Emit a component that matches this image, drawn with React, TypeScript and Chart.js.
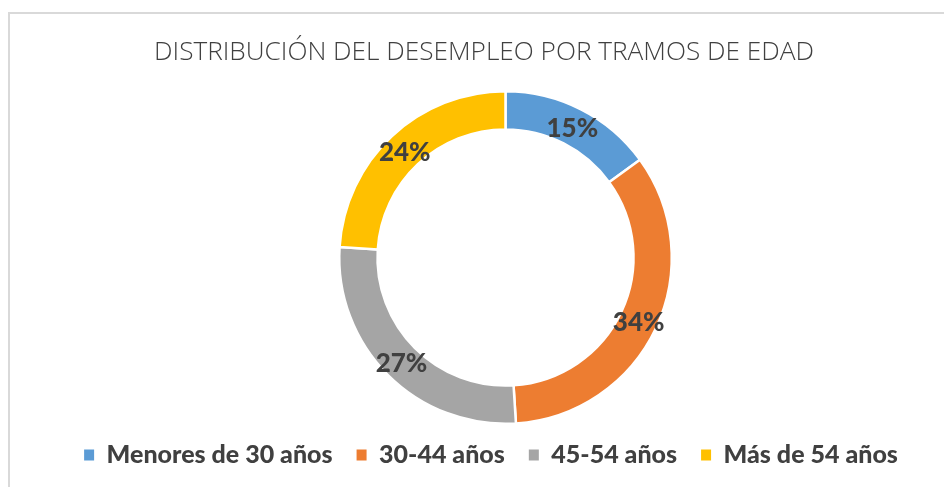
import React, { useEffect, useRef } from "react";
import { Chart, registerables } from "chart.js";

Chart.register(...registerables);

const TITLE = "DISTRIBUCIÓN DEL DESEMPLEO POR TRAMOS DE EDAD";
const categories = ["Menores de 30 años", "30-44 años", "45-54 años", "Más de 54 años"];
const values = [15, 34, 27, 24];
const colors = ["#5B9BD5", "#ED7D31", "#A5A5A5", "#FFC000"];

const AREA_SHIFT_X = 21.5;
const LEGEND_SHIFT_X = 7;
const LEGEND_SHIFT_Y = -6.5;
const LABEL_SHIFT_Y = 2.5;

const layoutShiftPlugin = {
  id: "layoutShift",
  afterLayout(chart: any) {
    const ca = chart.chartArea;
    ca.left += AREA_SHIFT_X;
    ca.right += AREA_SHIFT_X;
    if (chart.legend) {
      chart.legend.left += LEGEND_SHIFT_X;
      chart.legend.right += LEGEND_SHIFT_X;
      chart.legend.top += LEGEND_SHIFT_Y;
      chart.legend.bottom += LEGEND_SHIFT_Y;
    }
  },
};

const dataLabelPlugin = {
  id: "dataLabels",
  afterDatasetsDraw(chart: any) {
    const ctx = chart.ctx;
    const meta = chart.getDatasetMeta(0);
    const data = chart.data.datasets[0].data;
    ctx.save();
    ctx.font = "900 26px Lato";
    ctx.fillStyle = "#404040";
    ctx.textAlign = "center";
    ctx.textBaseline = "middle";
    meta.data.forEach((arc: any, i: number) => {
      const p = arc.getCenterPoint();
      ctx.fillText(`${data[i]}%`, p.x, p.y + LABEL_SHIFT_Y);
    });
    ctx.restore();
  },
};

export default function App() {
  const ref = useRef<HTMLCanvasElement | null>(null);
  useEffect(() => {
    if (!ref.current) return;
    const chart = new Chart(ref.current, {
      type: "doughnut",
      data: {
        labels: categories,
        datasets: [
          {
            data: values,
            backgroundColor: colors,
            borderColor: "#ffffff",
            borderWidth: 2.5,
          },
        ],
      },
      options: {
        animation: false,
        responsive: false,
        cutout: "77%",
        layout: { padding: { left: 24, right: 0, top: 10, bottom: 3 } },
        plugins: {
          title: {
            display: true,
            text: TITLE,
            color: "#404040",
            font: { family: "Open Sans", size: 26.2, weight: 300 },
            padding: { top: 27.3, bottom: 21.26 },
          },
          legend: {
            position: "bottom",
            labels: {
              color: "#404040",
              font: { family: "Lato", size: 25, weight: 900 },
              boxWidth: 10,
              boxHeight: 11,
              padding: 24,
              generateLabels: (c: any) => {
                const base = (Chart as any).overrides.doughnut.plugins.legend.labels.generateLabels(c);
                return base.map((l: any) => ({ ...l, lineWidth: 0, strokeStyle: "rgba(0,0,0,0)" }));
              },
            },
          },
          tooltip: { enabled: false },
        },
      },
      plugins: [layoutShiftPlugin, dataLabelPlugin],
    });
    return () => chart.destroy();
  }, []);

  return (
    <div style={{ position: "absolute", left: 0, top: 0, width: 944, height: 487, overflow: "hidden", background: "#fff" }}>
      <div
        style={{
          position: "absolute",
          left: 8,
          top: 12,
          width: 1200,
          height: 800,
          borderLeft: "2px solid #d9d9d9",
          borderTop: "2px solid #d9d9d9",
        }}
      />
      <canvas ref={ref} width={944} height={487} style={{ position: "absolute", left: 0, top: 0, width: 944, height: 487 }} />
    </div>
  );
}
